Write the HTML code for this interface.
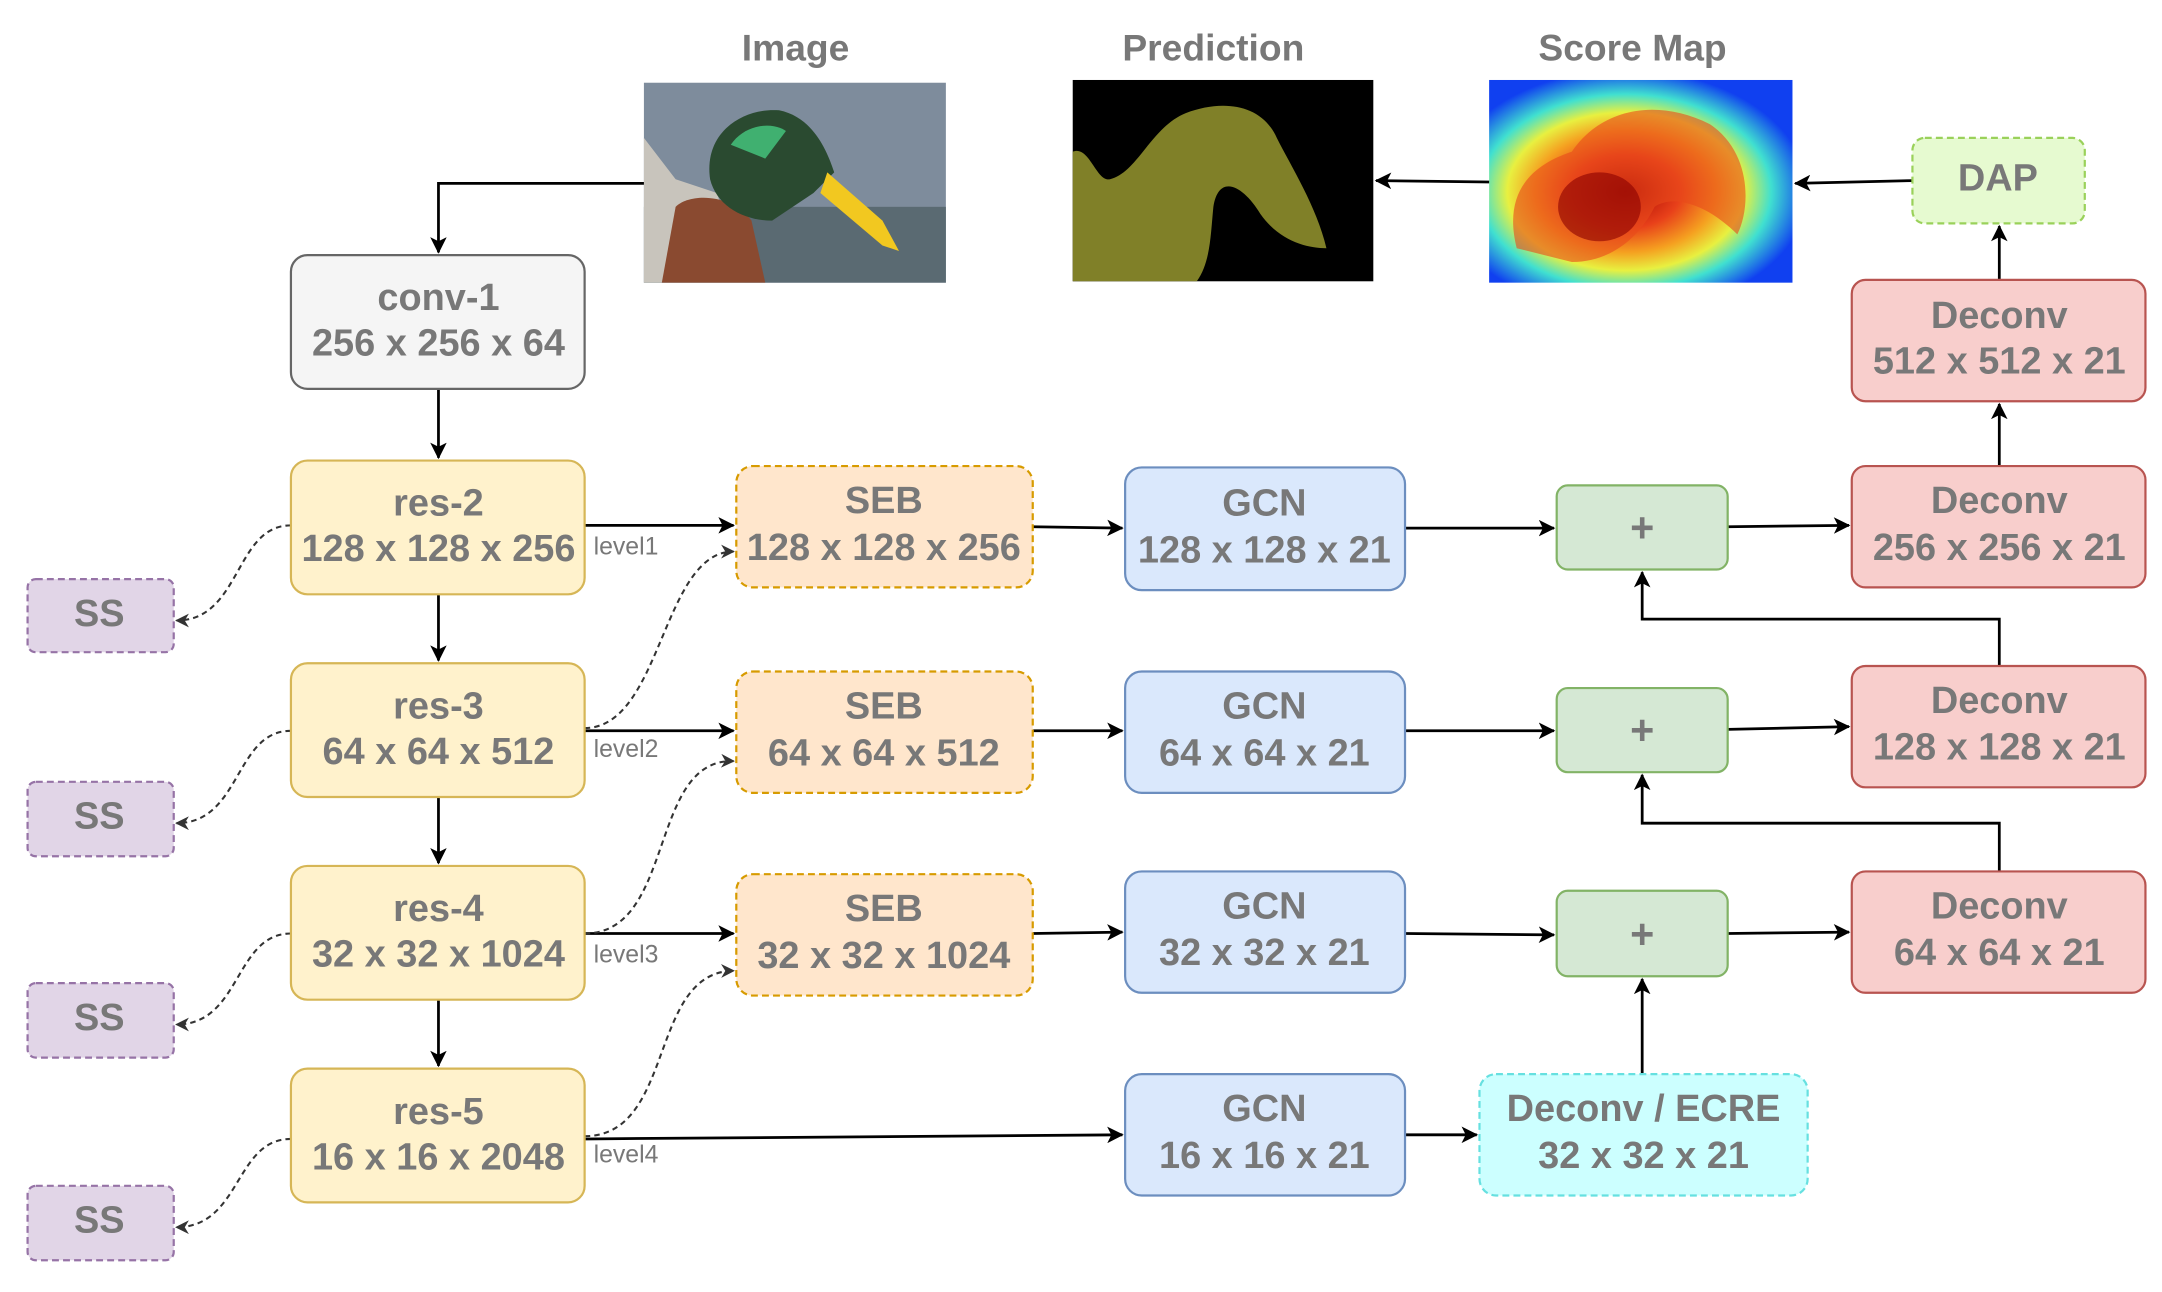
<!DOCTYPE html>
<html><head><meta charset="utf-8"><style>
html,body{margin:0;padding:0;background:#fff}
svg{display:block}
text{font-family:"Liberation Sans",sans-serif;font-weight:bold;fill:#787878;text-anchor:middle}
</style></head><body>
<svg width="2162" height="1292" viewBox="0 0 1568 937" preserveAspectRatio="none">
<defs>
<marker id="ar" markerWidth="12" markerHeight="12" refX="11" refY="6" orient="auto" markerUnits="userSpaceOnUse"><path d="M0,0 L12,6 L0,12 L3,6 Z" fill="#000"/></marker>
<marker id="ard" markerWidth="10" markerHeight="10" refX="9" refY="5" orient="auto" markerUnits="userSpaceOnUse"><path d="M0,0 L10,5 L0,10 L3,5 Z" fill="#333"/></marker>
<radialGradient id="heat" cx="0.45" cy="0.55" r="0.6">
<stop offset="0" stop-color="#a00000"/><stop offset="0.3" stop-color="#e8401a"/><stop offset="0.5" stop-color="#f5a020"/><stop offset="0.65" stop-color="#e8f040"/><stop offset="0.8" stop-color="#40e0d0"/><stop offset="1" stop-color="#1040f0"/></radialGradient>
</defs>
<text x="577" y="44" font-size="27">Image</text>
<text x="880" y="44" font-size="27">Prediction</text>
<text x="1184" y="44" font-size="27">Score Map</text>
<g>
<rect x="467" y="60" width="219" height="145" fill="#7e8c9c"/>
<rect x="467" y="150" width="219" height="55" fill="#5a6a72"/>
<path d="M467,100 L490,130 L520,140 L540,205 L467,205 Z" fill="#c8c4bc"/>
<path d="M490,150 C500,140 530,140 545,160 L555,205 L480,205 Z" fill="#8a4a30"/>
<path d="M515,130 C510,95 540,78 565,80 C590,85 600,110 605,125 L590,140 L560,160 C540,160 520,150 515,130 Z" fill="#2a4a30"/>
<path d="M530,105 C540,90 560,88 570,95 L555,115 Z" fill="#40b070"/>
<path d="M600,125 L640,160 L652,182 L640,178 L595,140 Z" fill="#f2c820"/>
</g>
<g>
<rect x="778" y="58" width="218" height="146" fill="#000"/>
<path d="M778,110 L778,204 L868,204 C878,190 878,170 880,150 C884,125 902,135 914,155 C928,175 948,180 962,180 C955,150 936,120 926,100 C915,75 886,72 860,82 C835,92 825,125 805,130 C795,132 790,105 778,110 Z" fill="#808028"/>
</g>
<g>
<rect x="1080" y="58" width="220" height="147" fill="url(#heat)"/>
<path d="M1100,180 C1090,140 1110,120 1140,110 C1160,80 1200,70 1240,90 C1270,110 1270,150 1260,170 C1240,150 1215,140 1200,150 C1190,170 1170,190 1140,190 Z" fill="#e84a1a" opacity="0.6"/>
<ellipse cx="1160" cy="150" rx="30" ry="25" fill="#8a0000" opacity="0.6"/>
</g>
<g fill="none" stroke="#000" stroke-width="2">
<path d="M467,133 L318,133 L318,183" marker-end="url(#ar)"/>
<path d="M1080,132 L998,131" marker-end="url(#ar)"/>
<path d="M1387,131 L1302,133" marker-end="url(#ar)"/>
<path d="M1450,203 L1450,164" marker-end="url(#ar)"/>
<path d="M1450,338 L1450,293" marker-end="url(#ar)"/>
<path d="M318,282 L318,332" marker-end="url(#ar)"/>
<path d="M318,431 L318,479" marker-end="url(#ar)"/>
<path d="M318,578 L318,626" marker-end="url(#ar)"/>
<path d="M318,725 L318,773" marker-end="url(#ar)"/>
<path d="M424,381 L532,381" marker-end="url(#ar)"/>
<path d="M424,530 L532,530" marker-end="url(#ar)"/>
<path d="M424,677 L532,677" marker-end="url(#ar)"/>
<path d="M424,826 L814,823" marker-end="url(#ar)"/>
<path d="M749,382 L814,383" marker-end="url(#ar)"/>
<path d="M749,530 L814,530" marker-end="url(#ar)"/>
<path d="M749,677 L814,676" marker-end="url(#ar)"/>
<path d="M1019,383 L1127,383" marker-end="url(#ar)"/>
<path d="M1019,530 L1127,530" marker-end="url(#ar)"/>
<path d="M1019,677 L1127,678" marker-end="url(#ar)"/>
<path d="M1019,823 L1071,823" marker-end="url(#ar)"/>
<path d="M1253,382 L1341,381" marker-end="url(#ar)"/>
<path d="M1253,529 L1341,527" marker-end="url(#ar)"/>
<path d="M1253,677 L1341,676" marker-end="url(#ar)"/>
<path d="M1450,483 L1450,449 L1191,449 L1191,415" marker-end="url(#ar)"/>
<path d="M1450,632 L1450,597 L1191,597 L1191,562" marker-end="url(#ar)"/>
<path d="M1191,779 L1191,710" marker-end="url(#ar)"/>
</g>
<g fill="none" stroke="#333" stroke-width="1.5" stroke-dasharray="4,3">
<path d="M211,381 C170,381 175,450 128,450" marker-end="url(#ard)"/>
<path d="M211,530 C170,530 175,597 128,597" marker-end="url(#ard)"/>
<path d="M211,677 C170,677 175,743 128,743" marker-end="url(#ard)"/>
<path d="M211,826 C170,826 175,890 128,890" marker-end="url(#ard)"/>
<path d="M424,528 C480,528 480,400 532,400" marker-end="url(#ard)"/>
<path d="M424,677 C490,677 470,550 532,552" marker-end="url(#ard)"/>
<path d="M424,824 C490,824 470,705 532,704" marker-end="url(#ard)"/>
</g>
<g font-size="18">
<text x="454" y="402" style="font-weight:normal">level1</text>
<text x="454" y="549" style="font-weight:normal">level2</text>
<text x="454" y="698" style="font-weight:normal">level3</text>
<text x="454" y="843" style="font-weight:normal">level4</text>
</g>
<g stroke-width="1.6" font-size="27.5">
<g><rect x="1387" y="100" width="125" height="62" rx="9" fill="#e6fad0" stroke="#9ad15a" stroke-dasharray="5,3"/><text x="1449" y="138">DAP</text></g>
<g><rect x="1343" y="203" width="213" height="88" rx="10" fill="#f8cecc" stroke="#b85450"/><text x="1450" y="238">Deconv</text><text x="1450" y="271">512 x 512 x 21</text></g>
<g><rect x="1343" y="338" width="213" height="88" rx="10" fill="#f8cecc" stroke="#b85450"/><text x="1450" y="372">Deconv</text><text x="1450" y="406">256 x 256 x 21</text></g>
<g><rect x="1343" y="483" width="213" height="88" rx="10" fill="#f8cecc" stroke="#b85450"/><text x="1450" y="517">Deconv</text><text x="1450" y="551">128 x 128 x 21</text></g>
<g><rect x="1343" y="632" width="213" height="88" rx="10" fill="#f8cecc" stroke="#b85450"/><text x="1450" y="666">Deconv</text><text x="1450" y="700">64 x 64 x 21</text></g>
<g><rect x="211" y="185" width="213" height="97" rx="12" fill="#f5f5f5" stroke="#666"/><text x="318" y="225">conv-1</text><text x="318" y="258">256 x 256 x 64</text></g>
<g><rect x="211" y="334" width="213" height="97" rx="12" fill="#fff2cc" stroke="#d6b656"/><text x="318" y="374">res-2</text><text x="318" y="407">128 x 128 x 256</text></g>
<g><rect x="211" y="481" width="213" height="97" rx="12" fill="#fff2cc" stroke="#d6b656"/><text x="318" y="521">res-3</text><text x="318" y="554">64 x 64 x 512</text></g>
<g><rect x="211" y="628" width="213" height="97" rx="12" fill="#fff2cc" stroke="#d6b656"/><text x="318" y="668">res-4</text><text x="318" y="701">32 x 32 x 1024</text></g>
<g><rect x="211" y="775" width="213" height="97" rx="12" fill="#fff2cc" stroke="#d6b656"/><text x="318" y="815">res-5</text><text x="318" y="848">16 x 16 x 2048</text></g>
<g fill="#e1d5e7" stroke="#9673a6" stroke-dasharray="5,3">
<rect x="20" y="420" width="106" height="53" rx="6"/>
<rect x="20" y="567" width="106" height="54" rx="6"/>
<rect x="20" y="713" width="106" height="54" rx="6"/>
<rect x="20" y="860" width="106" height="54" rx="6"/>
</g>
<text x="72" y="454">SS</text><text x="72" y="601">SS</text><text x="72" y="747">SS</text><text x="72" y="894">SS</text>
<g><rect x="534" y="338" width="215" height="88" rx="12" fill="#ffe6cc" stroke="#d79b00" stroke-dasharray="5,3"/><text x="641" y="372">SEB</text><text x="641" y="406">128 x 128 x 256</text></g>
<g><rect x="534" y="487" width="215" height="88" rx="12" fill="#ffe6cc" stroke="#d79b00" stroke-dasharray="5,3"/><text x="641" y="521">SEB</text><text x="641" y="555">64 x 64 x 512</text></g>
<g><rect x="534" y="634" width="215" height="88" rx="12" fill="#ffe6cc" stroke="#d79b00" stroke-dasharray="5,3"/><text x="641" y="668">SEB</text><text x="641" y="702">32 x 32 x 1024</text></g>
<g><rect x="816" y="339" width="203" height="89" rx="12" fill="#dae8fc" stroke="#6c8ebf"/><text x="917" y="374">GCN</text><text x="917" y="408">128 x 128 x 21</text></g>
<g><rect x="816" y="487" width="203" height="88" rx="12" fill="#dae8fc" stroke="#6c8ebf"/><text x="917" y="521">GCN</text><text x="917" y="555">64 x 64 x 21</text></g>
<g><rect x="816" y="632" width="203" height="88" rx="12" fill="#dae8fc" stroke="#6c8ebf"/><text x="917" y="666">GCN</text><text x="917" y="700">32 x 32 x 21</text></g>
<g><rect x="816" y="779" width="203" height="88" rx="12" fill="#dae8fc" stroke="#6c8ebf"/><text x="917" y="813">GCN</text><text x="917" y="847">16 x 16 x 21</text></g>
<g><rect x="1129" y="352" width="124" height="61" rx="8" fill="#d5e8d4" stroke="#82b366"/><text x="1191" y="393" font-size="30">+</text></g>
<g><rect x="1129" y="499" width="124" height="61" rx="8" fill="#d5e8d4" stroke="#82b366"/><text x="1191" y="540" font-size="30">+</text></g>
<g><rect x="1129" y="646" width="124" height="62" rx="8" fill="#d5e8d4" stroke="#82b366"/><text x="1191" y="688" font-size="30">+</text></g>
<g><rect x="1073" y="779" width="238" height="88" rx="12" fill="#ccffff" stroke="#66e0e0" stroke-dasharray="5,3"/><text x="1192" y="813">Deconv / ECRE</text><text x="1192" y="847">32 x 32 x 21</text></g>
</g>
</svg>
</body></html>
